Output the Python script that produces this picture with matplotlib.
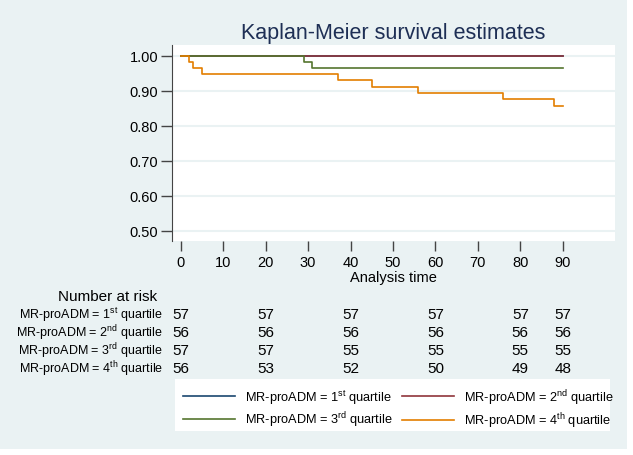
import matplotlib
matplotlib.use('Agg')
import matplotlib.pyplot as plt
import matplotlib.transforms as mtransforms
from matplotlib.patches import Rectangle

plt.rcParams['font.family'] = ['Liberation Sans', 'DejaVu Sans']
plt.rcParams['mathtext.fontset'] = 'custom'
plt.rcParams['mathtext.rm'] = 'Liberation Sans'

# ---- data ----
group_labels = ['MR-proADM = 1$^{\\rm st}$ quartile',
                'MR-proADM = 2$^{\\rm nd}$ quartile',
                'MR-proADM = 3$^{\\rm rd}$ quartile',
                'MR-proADM = 4$^{\\rm th}$ quartile']
group_colors = ['#1a476f', '#90353b', '#55752f', '#e37e00']

q1_time = [0, 90]
q1_surv = [1.0, 1.0]
q2_time = [0, 90]
q2_surv = [1.0, 1.0]
q3_time = [0, 29, 31, 90]
q3_surv = [1.0, 0.982, 0.965, 0.965]
q4_time = [0, 2, 3, 5, 37, 45, 56, 76, 88, 90]
q4_surv = [1.0, 0.982, 0.964, 0.946, 0.929, 0.911, 0.893, 0.875, 0.857, 0.857]

risk_times = [0, 20, 40, 60, 80, 90]
risk_q1 = [57, 57, 57, 57, 57, 57]
risk_q2 = [56, 56, 56, 56, 56, 56]
risk_q3 = [57, 57, 55, 55, 55, 55]
risk_q4 = [56, 53, 52, 50, 49, 48]

x_ticks = [0, 10, 20, 30, 40, 50, 60, 70, 80, 90]
y_ticks = [0.5, 0.6, 0.7, 0.8, 0.9, 1.0]

bg = '#eaf2f3'
W, H = 633, 456

fig = plt.figure(figsize=(W / 100, H / 100), dpi=100, facecolor='white')
# stata-ish background panel, thin white edge right/bottom
fig.patches.append(Rectangle((0, 6 / H), 627 / W, 1 - 6 / H, transform=fig.transFigure,
                             facecolor=bg, edgecolor='none', zorder=-10))
# legend box
fig.patches.append(Rectangle((175 / W, 1 - 432 / H), 435 / W, 52 / H, transform=fig.transFigure,
                             facecolor='white', edgecolor='none', zorder=-5))

ax = fig.add_axes([172 / W, 1 - 242 / H, (615 - 172) / W, (242 - 46) / H])
ax.set_facecolor('white')

curves = [(q1_time, q1_surv), (q2_time, q2_surv), (q3_time, q3_surv), (q4_time, q4_surv)]
handles = []
for (t, s), c, lab in zip(curves, group_colors, group_labels):
    h, = ax.step(t, s, where='post', color=c, lw=1.2, label=lab)
    handles.append(h)

ax.set_xlim(-2.05, 102.3)
ax.set_ylim(0.47, 1.03)
ax.set_xticks(x_ticks)
ax.set_yticks(y_ticks)
ax.yaxis.set_major_formatter(plt.FormatStrFormatter('%.2f'))
ax.grid(axis='y', color=bg, lw=1.5, zorder=0)
ax.set_axisbelow(True)
for sp in ['top', 'right', 'bottom']:
    ax.spines[sp].set_visible(False)
ax.spines['left'].set_color('#444444')
ax.tick_params(axis='y', length=8, width=1, color='#444444', labelsize=10.5, pad=2)
ax.tick_params(axis='x', length=7, width=1, color='#444444', labelsize=10.5, pad=3,
               direction='out')
ax.set_xlabel('Analysis time', fontsize=10.5, labelpad=1)

fig.text(393 / W, 1 - 33 / H, 'Kaplan-Meier survival estimates', ha='center', va='center',
         fontsize=15.5, color='#1e2f55')

# number at risk table
tr = mtransforms.blended_transform_factory(ax.transData, fig.transFigure)
fig.text(108 / W, 1 - 297 / H, 'Number at risk', ha='center', va='center', fontsize=11)
row_y = [315, 333, 351, 369]
for lab, vals, yy in zip(group_labels, [risk_q1, risk_q2, risk_q3, risk_q4], row_y):
    fig.text(163 / W, 1 - yy / H, lab, ha='right', va='center', fontsize=9)
    for t, v in zip(risk_times, vals):
        ax.text(t, 1 - yy / H, str(v), transform=tr, ha='center', va='center', fontsize=11)

# legend
order = [0, 2, 1, 3]
leg = fig.legend([handles[i] for i in order], [group_labels[i] for i in order],
                 ncol=2, loc='upper left',
                 bbox_to_anchor=(183 / W, 1 - 388 / H),
                 frameon=False, fontsize=9.2, handlelength=4.07, handletextpad=0.78,
                 columnspacing=0.7, labelspacing=0.3, borderpad=0, borderaxespad=0)

fig.savefig('out.png', dpi=100, facecolor=fig.get_facecolor())
